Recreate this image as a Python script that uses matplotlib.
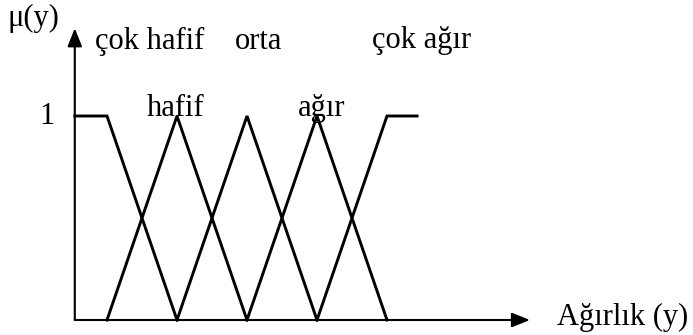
"""Bulanık üyelik fonksiyonları — ağırlık (y) için beş terim."""
import matplotlib
matplotlib.use("Agg")
import matplotlib.pyplot as plt

plt.rcParams.update({"font.family": ["Liberation Serif", "DejaVu Serif"], "font.size": 22})

# term breakpoints (x) and membership values (mu)
cok_hafif_x = [0.54, 1, 2]
cok_hafif_mu = [1, 1, 0]
hafif_x = [1, 2, 3]
hafif_mu = [0, 1, 0]
orta_x = [2, 3, 4]
orta_mu = [0, 1, 0]
agir_x = [3, 4, 5]
agir_mu = [0, 1, 0]
cok_agir_x = [4, 5, 5.43]
cok_agir_mu = [0, 1, 1]

terms = [
    (cok_hafif_x, cok_hafif_mu),
    (hafif_x, hafif_mu),
    (orta_x, orta_mu),
    (agir_x, agir_mu),
    (cok_agir_x, cok_agir_mu),
]

W, H = 693, 335
fig = plt.figure(figsize=(W / 100, H / 100), dpi=100)
# whole-figure axes, 70 px per x unit, 204 px per mu unit
x0 = 1 - 107 / 70
y0 = -15 / 204
ax = fig.add_axes([0, 0, 1, 1])
ax.set_xlim(x0, x0 + W / 70)
ax.set_ylim(y0, y0 + H / 204)
ax.axis("off")

for xs, mus in terms:
    ax.plot(xs, mus, color="black", lw=2.1, solid_joinstyle="miter")

# axes with arrows
org = 0.54
arrow = dict(arrowstyle="-|>,head_length=0.55,head_width=0.22", color="black",
             lw=1.5, mutation_scale=20, shrinkA=0, shrinkB=0)
ax.annotate("", xy=(1 + (530 - 107) / 70, 0), xytext=(org, 0), arrowprops=arrow)
ax.annotate("", xy=(org, 1.43), xytext=(org, 0), arrowprops=arrow)

ax.text(-0.42, 1.44, "μ(y)", ha="left", va="baseline")
ax.text(0.14, 0.96, "1", ha="center", va="baseline")
ax.text(7.43, -0.025, "Ağırlık (y)", ha="left", va="baseline")

ax.text(0.83, 1.33, "çok hafif", ha="left", va="baseline")
ax.text(2.83, 1.33, "orta", ha="left", va="baseline")
ax.text(4.79, 1.335, "çok ağır", ha="left", va="baseline")
ax.text(1.57, 1.0, "hafif", ha="left", va="baseline")
ax.text(3.73, 1.0, "ağır", ha="left", va="baseline")

fig.savefig("out.png", dpi=100)
